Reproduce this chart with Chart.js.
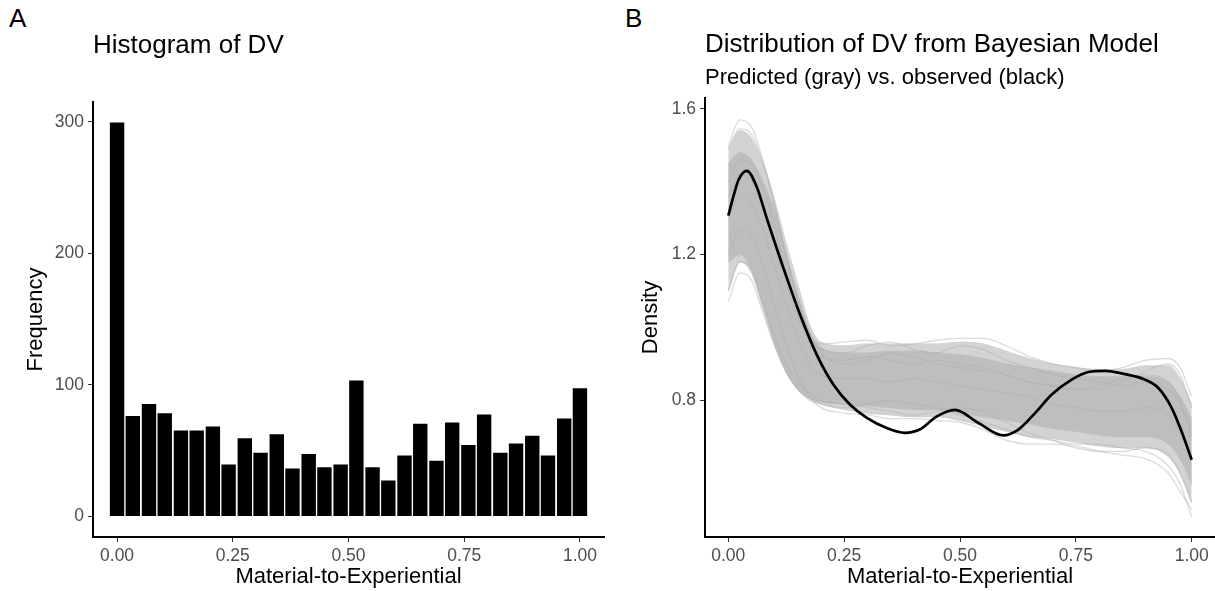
<!DOCTYPE html>
<html lang="en">
<head>
<meta charset="UTF-8">
<title>Histogram and Bayesian model distribution of DV</title>
<script src="https://cdn.jsdelivr.net/npm/chart.js"></script>
<style>
  body { margin: 0; background: #fff; width: 1215px; height: 591px; position: relative; overflow: hidden;
         font-family: 'Liberation Sans', Arial, sans-serif; }
  .tag { position: absolute; top: 5px; font-size: 26px; line-height: 1; color: #000; }
  #histWrap { position: absolute; left: 0; top: 0; width: 610px; height: 591px; }
  #densWrap { position: absolute; left: 610px; top: 0; width: 605px; height: 591px; }
</style>
</head>
<body>
<div class="tag" style="left:9px">A</div>
<div class="tag" style="left:625px">B</div>
<div id="histWrap"><canvas id="histChart" width="610" height="591"></canvas></div>
<div id="densWrap"><canvas id="densChart" width="605" height="591"></canvas></div>
<script>
// ---- panel A: histogram (30 bins) ----
const binMids = [0, 0.034, 0.069, 0.103, 0.138, 0.172, 0.207, 0.241, 0.276, 0.310,
                 0.345, 0.379, 0.414, 0.448, 0.483, 0.517, 0.552, 0.586, 0.621, 0.655,
                 0.690, 0.724, 0.759, 0.793, 0.828, 0.862, 0.897, 0.931, 0.966, 1.0];
const binCounts = [300, 77, 86, 79, 66, 66, 69, 40, 60, 49,
                   63, 37, 48, 38, 40, 104, 38, 28, 47, 71,
                   43, 72, 55, 78, 49, 56, 62, 47, 75, 98];
const freqTicks = [0, 100, 200, 300];
const xTicks = [0, 0.25, 0.5, 0.75, 1];

// ---- panel B: observed density (black) ----
const obsX = [0, 0.011, 0.022, 0.040, 0.061, 0.083, 0.119, 0.155, 0.191, 0.227, 0.263, 0.299,
              0.342, 0.381, 0.413, 0.450, 0.489, 0.540, 0.593, 0.626, 0.662, 0.698, 0.741,
              0.777, 0.813, 0.856, 0.899, 0.928, 0.957, 0.978, 1.0];
const obsY = [1.307, 1.36, 1.405, 1.430, 1.387, 1.300, 1.163, 1.035, 0.925, 0.843, 0.788, 0.752,
              0.724, 0.711, 0.720, 0.756, 0.774, 0.738, 0.704, 0.720, 0.765, 0.816, 0.857,
              0.878, 0.881, 0.872, 0.857, 0.834, 0.779, 0.715, 0.637];

// predicted draws (gray): sparse outer band, dense core band, a few stray draws
const drawX = [0, 0.025, 0.05, 0.075, 0.1, 0.125, 0.15, 0.175, 0.2, 0.25, 0.3, 0.35, 0.4,
               0.45, 0.5, 0.55, 0.6, 0.65, 0.7, 0.75, 0.8, 0.85, 0.9, 0.95, 0.975, 1.0];
const sparseUpper = [1.49, 1.54, 1.52, 1.45, 1.35, 1.23, 1.12, 1.01, 0.96, 0.95, 0.955, 0.955, 0.955,
                     0.955, 0.96, 0.955, 0.935, 0.915, 0.90, 0.89, 0.885, 0.885, 0.895, 0.895, 0.86, 0.79];
const sparseLower = [1.10, 1.18, 1.15, 1.05, 0.95, 0.875, 0.83, 0.805, 0.79, 0.775, 0.765, 0.76, 0.755,
                     0.755, 0.745, 0.73, 0.715, 0.70, 0.695, 0.685, 0.675, 0.67, 0.67, 0.645, 0.60, 0.52];
const coreUpper = [1.45, 1.48, 1.46, 1.40, 1.32, 1.20, 1.09, 0.99, 0.945, 0.93, 0.93, 0.935, 0.935,
                   0.93, 0.925, 0.915, 0.90, 0.89, 0.88, 0.87, 0.865, 0.865, 0.865, 0.85, 0.81, 0.75];
const coreLower = [1.18, 1.20, 1.16, 1.06, 0.96, 0.88, 0.83, 0.805, 0.795, 0.79, 0.785, 0.78, 0.775,
                   0.775, 0.765, 0.755, 0.745, 0.735, 0.723, 0.715, 0.705, 0.70, 0.70, 0.68, 0.64, 0.57];
const draw1 = [1.50, 1.57, 1.55, 1.46, 1.34, 1.20, 1.08, 0.99, 0.93, 0.90, 0.91, 0.93, 0.92,
               0.90, 0.89, 0.88, 0.87, 0.85, 0.84, 0.83, 0.84, 0.86, 0.87, 0.85, 0.80, 0.72];
const draw2 = [1.49, 1.545, 1.53, 1.45, 1.33, 1.19, 1.07, 0.98, 0.94, 0.93, 0.95, 0.96, 0.94,
               0.93, 0.95, 0.94, 0.91, 0.89, 0.87, 0.86, 0.85, 0.84, 0.85, 0.83, 0.79, 0.70];
const draw3 = [1.07, 1.15, 1.13, 1.04, 0.95, 0.88, 0.83, 0.80, 0.79, 0.78, 0.79, 0.80, 0.79,
               0.78, 0.76, 0.74, 0.72, 0.70, 0.69, 0.68, 0.68, 0.67, 0.66, 0.62, 0.57, 0.48];
const draw4 = [1.10, 1.18, 1.16, 1.07, 0.97, 0.90, 0.85, 0.82, 0.80, 0.79, 0.78, 0.77, 0.76,
               0.77, 0.78, 0.77, 0.74, 0.71, 0.69, 0.67, 0.66, 0.66, 0.67, 0.65, 0.60, 0.52];
const draw5 = [1.36, 1.42, 1.40, 1.33, 1.23, 1.12, 1.03, 0.97, 0.955, 0.96, 0.965, 0.95, 0.955,
               0.965, 0.97, 0.97, 0.95, 0.92, 0.90, 0.89, 0.88, 0.89, 0.91, 0.915, 0.89, 0.81];
const draw6 = [1.20, 1.27, 1.25, 1.17, 1.06, 0.95, 0.87, 0.81, 0.78, 0.765, 0.76, 0.75, 0.75,
               0.745, 0.74, 0.72, 0.69, 0.68, 0.68, 0.675, 0.66, 0.65, 0.64, 0.60, 0.55, 0.50];
const draw7 = [1.30, 1.36, 1.34, 1.27, 1.17, 1.06, 0.97, 0.90, 0.87, 0.86, 0.86, 0.85, 0.86,
               0.85, 0.84, 0.83, 0.82, 0.81, 0.79, 0.78, 0.77, 0.77, 0.78, 0.76, 0.71, 0.64];
const draw8 = [1.40, 1.46, 1.45, 1.38, 1.28, 1.15, 1.04, 0.96, 0.92, 0.91, 0.92, 0.91, 0.90,
               0.91, 0.90, 0.89, 0.87, 0.85, 0.84, 0.83, 0.83, 0.85, 0.88, 0.90, 0.87, 0.78];
const densTicks = [0.8, 1.2, 1.6];

Chart.defaults.font.family = "'Liberation Sans', Arial, sans-serif";
Chart.defaults.color = '#4d4d4d';

const pair = (xs, ys) => xs.map((x, i) => ({ x: x, y: ys[i] }));

function axisStyle(tickList, fmt, fitFn, titleText, titlePad) {
    return {
        type: 'linear',
        offset: false,
        afterBuildTicks: s => { s.ticks = tickList.map(v => ({ value: v })); },
        afterFit: fitFn,
        ticks: { callback: v => v.toFixed(fmt), font: { size: 17.5 }, color: '#4d4d4d',
                 padding: 4, maxRotation: 0, autoSkip: false },
        grid: { drawOnChartArea: false, drawTicks: true, tickLength: 5, color: '#333', lineWidth: 1, offset: false },
        border: { display: true, color: '#000', width: 2 },
        title: { display: true, text: titleText, font: { size: 22 }, color: '#000', padding: titlePad }
    };
}

// panel A
new Chart(document.getElementById('histChart'), {
    type: 'bar',
    data: {
        datasets: [{
            data: pair(binMids, binCounts),
            backgroundColor: '#000',
            borderColor: '#fff',
            borderWidth: 1,
            barPercentage: 1,
            categoryPercentage: 1
        }]
    },
    options: {
        responsive: false,
        animation: false,
        events: [],
        layout: { padding: { top: 30.4, left: 0, right: 6, bottom: 0 } },
        plugins: {
            legend: { display: false },
            tooltip: { enabled: false },
            title: { display: true, text: 'Histogram of DV', align: 'start', fullSize: false,
                     font: { size: 26, weight: 'normal' }, color: '#000', padding: { top: 0, bottom: 40.4 } }
        },
        scales: {
            x: Object.assign(axisStyle(xTicks, 2, s => { s.height = 54; }, 'Material-to-Experiential', { top: 0, bottom: 1 }),
                             { min: -0.052, max: 1.052 }),
            y: Object.assign(axisStyle(freqTicks, 0, s => { s.width = 93; }, 'Frequency', { top: 23, bottom: 0 }),
                             { min: -15.5, max: 315 })
        }
    }
});

// panel B
const grayDraws = [draw1, draw2, draw3, draw4, draw5, draw6, draw7, draw8];
const densSets = [
    { data: pair(drawX, sparseUpper), borderColor: 'rgba(200,200,200,0.8)', borderWidth: 1, fill: false, order: 5 },
    { data: pair(drawX, sparseLower), borderColor: 'rgba(200,200,200,0.8)', borderWidth: 1,
      fill: '-1', backgroundColor: '#d3d3d3', order: 4 },
    { data: pair(drawX, coreUpper), borderColor: 'rgba(190,190,190,0.9)', borderWidth: 1, fill: false, order: 3 },
    { data: pair(drawX, coreLower), borderColor: 'rgba(190,190,190,0.9)', borderWidth: 1,
      fill: '-1', backgroundColor: '#bebebe', order: 2 }
];
grayDraws.forEach(d => densSets.push({ data: pair(drawX, d), borderColor: 'rgba(175,175,175,0.45)',
                                        borderWidth: 1.3, fill: false, order: 1 }));
densSets.push({ data: pair(obsX, obsY), borderColor: '#000', borderWidth: 2.7, fill: false, order: 0 });

new Chart(document.getElementById('densChart'), {
    type: 'line',
    data: { datasets: densSets },
    options: {
        responsive: false,
        animation: false,
        events: [],
        elements: { point: { radius: 0 }, line: { cubicInterpolationMode: 'monotone' } },
        layout: { padding: { top: 29.4, left: 0, right: 0, bottom: 0 } },
        plugins: {
            legend: { display: false },
            tooltip: { enabled: false },
            title: { display: true, text: 'Distribution of DV from Bayesian Model', align: 'start', fullSize: false,
                     font: { size: 26, weight: 'normal' }, color: '#000', padding: { top: 0, bottom: 4.2 } },
            subtitle: { display: true, text: 'Predicted (gray) vs. observed (black)', align: 'start', fullSize: false,
                        font: { size: 22 }, color: '#000', padding: { top: 0, bottom: 6.8 } }
        },
        scales: {
            x: Object.assign(axisStyle(xTicks, 2, s => { s.height = 54; }, 'Material-to-Experiential', { top: 0, bottom: 1 }),
                             { min: -0.0503, max: 1.0503 }),
            y: Object.assign(axisStyle(densTicks, 1, s => { s.width = 95; }, 'Density', { top: 28, bottom: 0 }),
                             { min: 0.425, max: 1.63 })
        }
    }
});
</script>
</body>
</html>
